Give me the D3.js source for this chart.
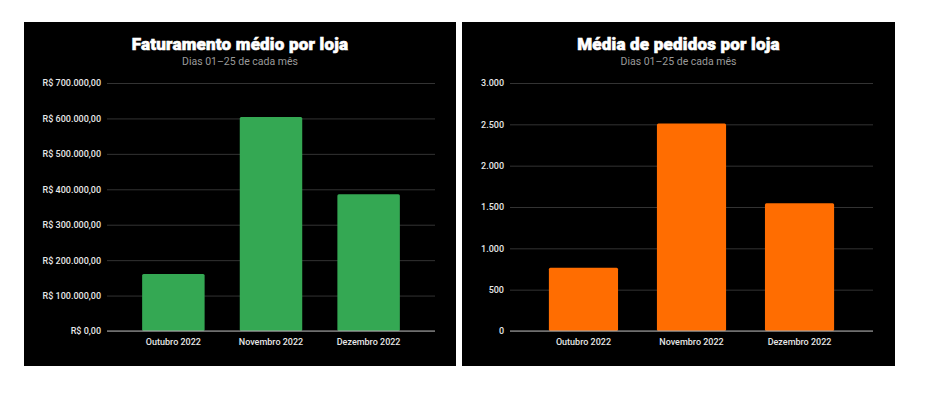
<!DOCTYPE html>
<html lang="pt-BR">
<head>
<meta charset="utf-8">
<title>Faturamento e pedidos por loja</title>
<script src="https://cdn.jsdelivr.net/npm/d3@7/dist/d3.min.js"></script>
<style>
  body { margin: 0; background: #fff; }
  svg text { font-family: Roboto, "Noto Sans", Arial, sans-serif; }
  .title { fill: #fff; stroke: #fff; stroke-width: 0.6px; font-weight: 900; font-size: 17px; text-anchor: middle; letter-spacing: 0.2px; }
  .subtitle { fill: #9a9a9a; font-size: 10.5px; text-anchor: middle; }
  .tick text { fill: #e6e6e6; font-size: 9px; font-weight: 500; }
  .grid line { stroke: #333; }
</style>
</head>
<body>
<svg width="931" height="397"></svg>
<script>
// data
var months = ["Outubro 2022", "Novembro 2022", "Dezembro 2022"];
var revenue = [161000, 604000, 386000];
var orders = [766, 2510, 1545];

var ptBR = d3.formatLocale({
  decimal: ",", thousands: ".", grouping: [3], currency: ["R$ ", ""]
});

var svg = d3.select("svg");

function drawPanel(opt) {
  var g = svg.append("g");
  g.append("rect")
    .attr("x", opt.x0).attr("y", 22)
    .attr("width", opt.x1 - opt.x0).attr("height", 344)
    .attr("fill", "#000");

  var cx = (opt.x0 + opt.x1) / 2;
  g.append("text").attr("class", "title")
    .attr("x", cx).attr("y", 50).text(opt.title);
  g.append("text").attr("class", "subtitle")
    .attr("x", cx).attr("y", 65).text("Dias 01\u201325 de cada mês");

  var x = d3.scaleBand().domain(months)
    .range([opt.left, opt.right]).padding(0.36);
  var y = d3.scaleLinear().domain([0, opt.max]).range([331, 83]);

  // gridlines + y labels
  var yAxis = d3.axisLeft(y).ticks(opt.nticks)
    .tickSize(-(opt.right - opt.left)).tickPadding(6)
    .tickFormat(opt.fmt);
  var ya = g.append("g").attr("class", "grid")
    .attr("transform", "translate(" + opt.left + ",0)")
    .call(yAxis);
  ya.select(".domain").remove();
  ya.selectAll(".tick line").attr("stroke", "#333");

  g.selectAll(".bar")
    .data(opt.values)
    .enter().append("rect")
    .attr("class", "bar")
    .attr("x", function(d, i) { return x(months[i]); })
    .attr("y", function(d) { return y(d); })
    .attr("width", x.bandwidth())
    .attr("height", function(d) { return y(0) - y(d); })
    .attr("rx", 1.5)
    .attr("fill", opt.color);

  // baseline
  g.append("line")
    .attr("x1", opt.left).attr("x2", opt.right)
    .attr("y1", y(0)).attr("y2", y(0))
    .attr("stroke", "#aaa");

  var xa = g.append("g")
    .attr("transform", "translate(0," + y(0) + ")")
    .call(d3.axisBottom(x).tickSize(0).tickPadding(8));
  xa.select(".domain").remove();
}

drawPanel({
  x0: 24, x1: 456, left: 107, right: 435,
  title: "Faturamento médio por loja",
  values: revenue, max: 700000, nticks: 7,
  fmt: ptBR.format("$,.2f"), color: "#34a853"
});

drawPanel({
  x0: 462, x1: 895, left: 510, right: 873,
  title: "Média de pedidos por loja",
  values: orders, max: 3000, nticks: 6,
  fmt: ptBR.format(",d"), color: "#ff6d01"
});
</script>
</body>
</html>
